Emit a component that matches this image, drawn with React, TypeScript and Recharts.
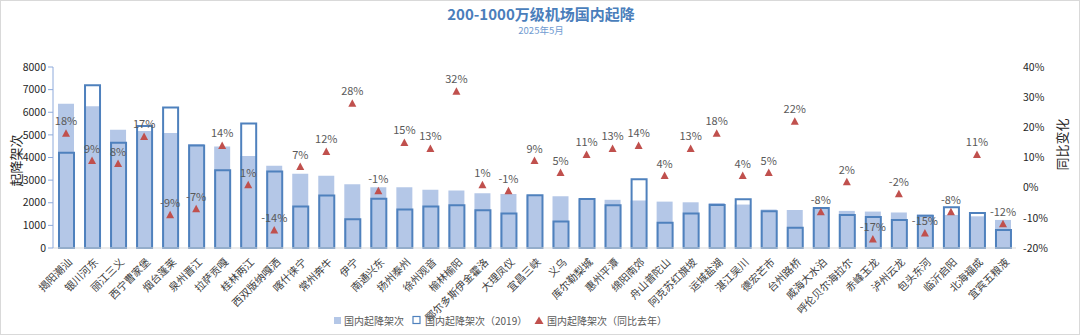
import {
  ComposedChart,
  Bar,
  Line,
  XAxis,
  YAxis,
  LabelList,
  Legend,
} from "recharts";

const airports = [
  "揭阳潮汕", "银川河东", "丽江三义", "西宁曹家堡", "烟台蓬莱", "泉州晋江", "拉萨贡嘎",
  "桂林两江", "西双版纳嘎洒", "喀什徕宁", "常州奔牛", "伊宁", "南通兴东", "扬州泰州",
  "徐州观音", "榆林榆阳", "鄂尔多斯伊金霍洛", "大理凤仪", "宜昌三峡", "义乌", "库尔勒梨城",
  "惠州平潭", "绵阳南郊", "舟山普陀山", "阿克苏红旗坡", "运城盐湖", "湛江吴川", "德宏芒市",
  "台州路桥", "威海大水泊", "呼伦贝尔海拉尔", "赤峰玉龙", "泸州云龙", "包头东河", "临沂启阳",
  "北海福成", "宜宾五粮液",
];

const flights2025 = [
  6380, 6260, 5230, 5170, 5080, 4600, 4490, 4070, 3630, 3280, 3190, 2820, 2690, 2690,
  2580, 2540, 2420, 2390, 2330, 2290, 2160, 2130, 2100, 2050, 2020, 1990, 1920, 1700,
  1680, 1730, 1640, 1610, 1570, 1480, 1460, 1400, 1240,
];

const flights2019 = [
  4210, 7190, 4650, 5390, 6210, 4530, 3440, 5500, 3380, 1830, 2320, 1270, 2180, 1700,
  1830, 1890, 1670, 1520, 2330, 1170, 2170, 1890, 3040, 1120, 1520, 1900, 2160, 1620,
  890, 1770, 1460, 1370, 1240, 1430, 1800, 1550, 800,
];

const yoyChange = [
  18, 9, 8, 17, -9, -7, 14, 1, -14, 7, 12, 28, -1, 15, 13, 32, 1, -1, 9, 5, 11, 13,
  14, 4, 13, 18, 4, 5, 22, -8, 2, -17, -2, -15, -8, 11, -12,
];

const leftTicks = [0, 1000, 2000, 3000, 4000, 5000, 6000, 7000, 8000];
const rightTicks = [-20, -10, 0, 10, 20, 30, 40];

const data = airports.map((name, i) => ({
  name,
  now: flights2025[i],
  base: flights2019[i],
  yoy: yoyChange[i],
}));

const FILL = "#b4c7e7";
const BLUE = "#4f81bd";
const RED = "#c0504d";
const FONT = "'Noto Sans CJK SC', 'Noto Sans', sans-serif";

function Triangle(props: any) {
  const { cx, cy, index } = props;
  if (cx == null || cy == null) return <g key={`t-${index}`} />;
  return (
    <path
      key={`t-${index}`}
      d={`M${cx},${cy - 4} L${cx + 4},${cy + 3.5} L${cx - 4},${cy + 3.5} Z`}
      fill={RED}
    />
  );
}

function AirportTick(props: any) {
  const { x, y, payload } = props;
  return (
    <g transform={`translate(${x + 4},${y + 4})`}>
      <text
        textAnchor="end"
        transform="rotate(-45)"
        fontSize={10.5}
        fill="#404040"
        dy={4}
      >
        {payload.value}
      </text>
    </g>
  );
}

// legend drawn by hand (svg) so the three markers look like the original
function LegendBox() {
  const t = { fontSize: 10, fill: "#595959", fontFamily: FONT };
  return (
    <svg width={340} height={20} style={{ display: "block" }}>
      <rect x={1} y={6} width={7} height={7} fill={FILL} />
      <text x={11} y={14} {...t}>国内起降架次</text>
      <rect x={80} y={5.5} width={7} height={7} fill="none" stroke={BLUE} strokeWidth={1.2} />
      <text x={92} y={14} {...t}>国内起降架次（2019）</text>
      <path d="M206,5.5 L210.5,13 L201.5,13 Z" fill={RED} />
      <text x={214} y={14} {...t}>国内起降架次（同比去年）</text>
    </svg>
  );
}

export default function App() {
  return (
    <div
      style={{
        position: "relative",
        width: 1080,
        height: 335,
        boxSizing: "border-box",
        border: "1px solid #d9d9d9",
        background: "#fff",
        fontFamily: FONT,
      }}
    >
      <style>{"body{margin:0}"}</style>
      <div
        style={{
          position: "absolute",
          top: 4,
          left: 0,
          width: 1080,
          textAlign: "center",
          color: "#4a7ebb",
          fontWeight: 700,
          fontSize: 15,
          lineHeight: "18px",
        }}
      >
        200-1000万级机场国内起降
      </div>
      <div
        style={{
          position: "absolute",
          top: 24,
          left: 0,
          width: 1080,
          textAlign: "center",
          color: "#6f9bd1",
          fontSize: 9.5,
          lineHeight: "11px",
        }}
      >
        2025年5月
      </div>
      <ComposedChart
        width={1078}
        height={333}
        data={data}
        margin={{ top: 66, right: 18, left: 0, bottom: 0 }}
        style={{ position: "absolute", top: 0, left: 0 }}
      >
        <XAxis
          xAxisId="a"
          dataKey="name"
          interval={0}
          height={66}
          tick={<AirportTick />}
          tickLine={false}
          axisLine={{ stroke: "#d9d9d9" }}
        />
        <XAxis xAxisId="b" dataKey="name" hide />
        <YAxis
          yAxisId="left"
          domain={[0, 8000]}
          ticks={leftTicks}
          width={52}
          tick={{ fill: "#262626", fontSize: 10.5 }}
          tickSize={5}
          tickLine={{ stroke: "#8eaadb" }}
          axisLine={{ stroke: "#8eaadb" }}
          label={({ viewBox }: any) => (
            <text
              x={14}
              y={viewBox.y + viewBox.height / 2 + 3}
              transform={`rotate(-90, 14, ${viewBox.y + viewBox.height / 2 + 3})`}
              textAnchor="middle"
              dominantBaseline="central"
              fontSize={13}
              fill="#262626"
            >
              起降架次
            </text>
          )}
        />
        <YAxis
          yAxisId="right"
          orientation="right"
          domain={[-20, 40]}
          ticks={rightTicks}
          width={45}
          tickFormatter={(v: number) => `${v}%`}
          tick={{ fill: "#262626", fontSize: 10.5 }}
          tickLine={false}
          tickSize={0}
          axisLine={false}
          tickMargin={7}
          label={({ viewBox }: any) => (
            <text
              x={1060}
              y={viewBox.y + viewBox.height / 2 - 13}
              transform={`rotate(-90, 1060, ${viewBox.y + viewBox.height / 2 - 13})`}
              textAnchor="middle"
              dominantBaseline="central"
              fontSize={13}
              fill="#262626"
            >
              同比变化
            </text>
          )}
        />
        <Legend
          verticalAlign="bottom"
          align="left"
          height={20}
          wrapperStyle={{ left: 332, bottom: 3, width: 340 }}
          content={() => <LegendBox />}
        />
        <Bar
          xAxisId="a"
          yAxisId="left"
          dataKey="now"
          fill={FILL}
          barSize={16}
          isAnimationActive={false}
        />
        <Bar
          xAxisId="b"
          yAxisId="left"
          dataKey="base"
          fill="none"
          stroke={BLUE}
          strokeWidth={2}
          barSize={15}
          isAnimationActive={false}
        />
        <Line
          xAxisId="a"
          yAxisId="right"
          dataKey="yoy"
          stroke="none"
          dot={<Triangle />}
          activeDot={false}
          isAnimationActive={false}
        >
          <LabelList
            dataKey="yoy"
            position="top"
            offset={8}
            fontSize={11}
            fill="#595959"
            formatter={(v: any) => `${v}%`}
          />
        </Line>
      </ComposedChart>
    </div>
  );
}
